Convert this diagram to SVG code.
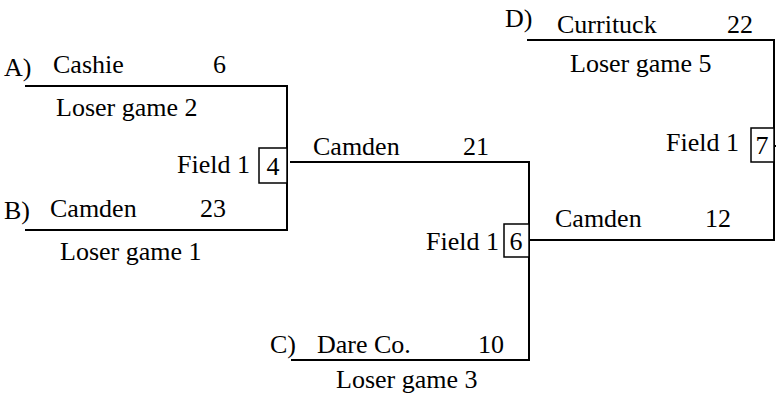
<svg xmlns="http://www.w3.org/2000/svg" width="776" height="396" viewBox="0 0 776 396">
<style>
text{font-family:'Liberation Serif','Times New Roman',serif;font-size:26px;fill:#000}
.ln{stroke:#000;stroke-width:2;fill:none}
.bx{stroke:#000;stroke-width:1.5;fill:#fff}
.c{text-anchor:middle}
</style>
<rect width="776" height="396" fill="#fff"/>
<g id="connectors">
<polyline class="ln" points="25,86 287,86 287,230 25,230"/>
<polyline class="ln" points="290,162 529,162 529,360 291,360"/>
<polyline class="ln" points="527,40 774,40 774,240 530,240"/>
<line class="ln" x1="774" y1="146" x2="776" y2="146"/>
</g>
<g id="teamA">
<text x="4" y="76">A)</text>
<text x="53" y="73">Cashie</text>
<text x="213" y="73">6</text>
<text x="56" y="116">Loser game 2</text>
</g>
<g id="teamB">
<text x="4" y="219">B)</text>
<text x="50" y="217">Camden</text>
<text x="200" y="217">23</text>
<text x="60" y="260">Loser game 1</text>
</g>
<g id="game4">
<text x="177" y="173">Field 1</text>
<rect class="bx" x="259" y="148" width="28" height="35"/>
<text class="c" x="273" y="175">4</text>
</g>
<g id="winner4">
<text x="313" y="155">Camden</text>
<text x="463" y="155">21</text>
</g>
<g id="teamC">
<text x="270" y="353">C)</text>
<text x="317" y="353">Dare Co.</text>
<text x="478" y="353">10</text>
<text x="336" y="388">Loser game 3</text>
</g>
<g id="game6">
<text x="426" y="250">Field 1</text>
<rect class="bx" x="504" y="224" width="25" height="33"/>
<text class="c" x="516" y="250">6</text>
</g>
<g id="winner6">
<text x="555" y="227">Camden</text>
<text x="705" y="227">12</text>
</g>
<g id="teamD">
<text x="505" y="27">D)</text>
<text x="557" y="33">Currituck</text>
<text x="727" y="33">22</text>
<text x="570" y="72">Loser game 5</text>
</g>
<g id="game7">
<text x="666" y="151">Field 1</text>
<rect class="bx" x="751" y="128" width="23" height="34"/>
<text class="c" x="762" y="154">7</text>
</g>
</svg>
